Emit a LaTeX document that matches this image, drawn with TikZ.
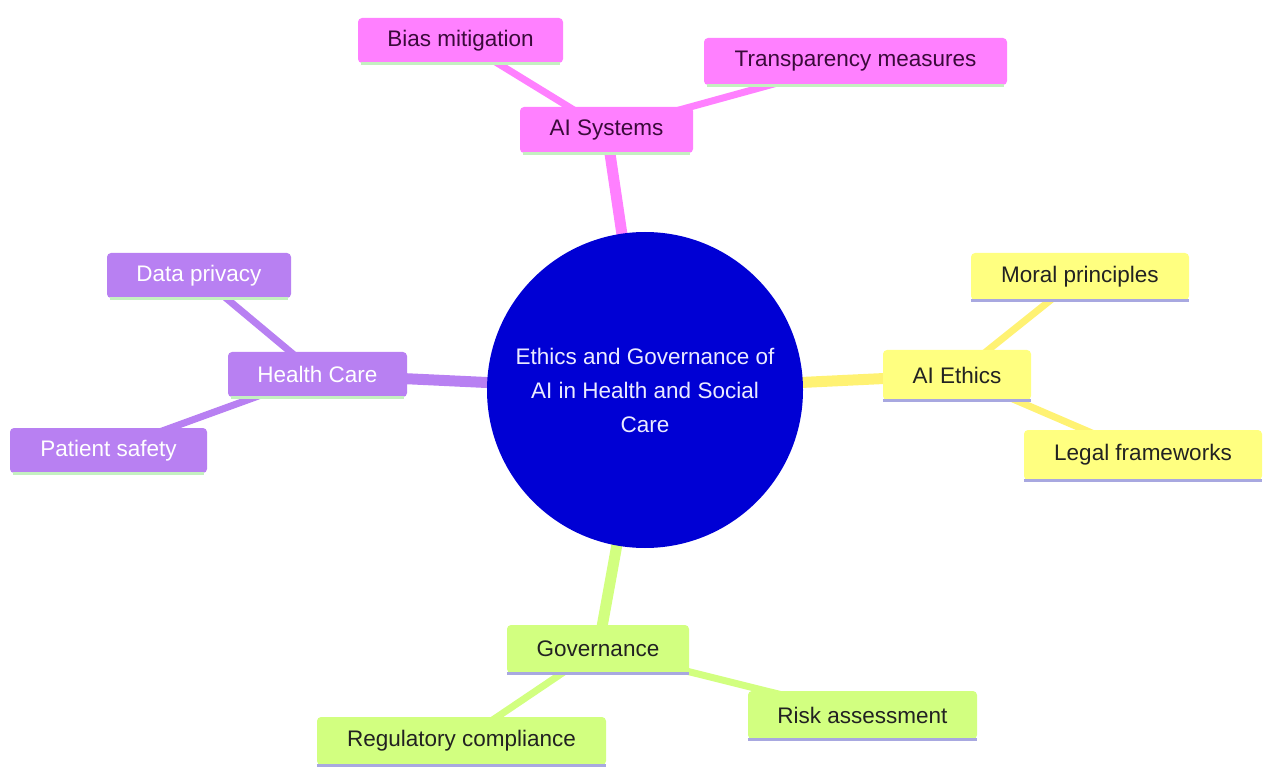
\documentclass[tikz,border=0pt]{standalone}
\usepackage{fontspec}
\setmainfont{Liberation Sans}
\pgfdeclarelayer{background}
\pgfsetlayers{background,main}
\definecolor{pinkc}{HTML}{FF80FF}
\definecolor{purplec}{HTML}{B880F2}
\definecolor{yellowc}{HTML}{FFFF80}
\definecolor{greenc}{HTML}{D2FF80}
\definecolor{rootc}{HTML}{0000D4}
\definecolor{lgreen}{HTML}{C4F0C0}
\definecolor{lavender}{HTML}{A8A8E0}
\definecolor{pinktext}{HTML}{3A0A3A}
\definecolor{darktext}{HTML}{222222}
\tikzset{
  box/.style={rectangle, rounded corners=4pt, inner sep=0pt, font=\fontsize{22.5}{26}\selectfont},
  pinkbox/.style={box, fill=pinkc, text=pinktext},
  purplebox/.style={box, fill=purplec, text=white},
  yellowbox/.style={box, fill=yellowc, text=darktext},
  greenbox/.style={box, fill=greenc, text=darktext},
  main edge/.style={line width=11pt},
  sub edge/.style={line width=7pt},
  underline/.style={line width=3pt},
}
\begin{document}
\begin{tikzpicture}[x=1pt,y=-1pt]
\useasboundingbox (0,0) rectangle (1264,767);
% root
\node[circle, fill=rootc, minimum size=316pt, inner sep=0pt, text=white!92!blue,
      align=center, font=\fontsize{22.5}{34}\selectfont] (root) at (645,390)
  {Ethics and Governance of\\AI in Health and Social\\Care};
% AI Systems branch
\node[pinkbox, minimum width=173pt, minimum height=46pt] (ais) at (606.5,130) {AI Systems};
\node[pinkbox, minimum width=205pt, minimum height=45pt] (bias) at (460.5,40.5) {Bias mitigation};
\node[pinkbox, minimum width=303pt, minimum height=47pt] (trans) at (855.5,61.5) {Transparency measures};
% Health Care branch
\node[purplebox, minimum width=179pt, minimum height=45pt] (hc) at (317.5,374.5) {Health Care};
\node[purplebox, minimum width=184pt, minimum height=45pt] (dp) at (199,275.5) {Data privacy};
\node[purplebox, minimum width=197pt, minimum height=45pt] (ps) at (108.5,450.5) {Patient safety};
% AI Ethics branch
\node[yellowbox, minimum width=148pt, minimum height=50pt] (aie) at (957,375) {AI Ethics};
\node[yellowbox, minimum width=218pt, minimum height=47pt] (moral) at (1080,276.5) {Moral principles};
\node[yellowbox, minimum width=238pt, minimum height=50pt] (legal) at (1143,455) {Legal frameworks};
% Governance branch
\node[greenbox, minimum width=182pt, minimum height=48pt] (gov) at (598,649) {Governance};
\node[greenbox, minimum width=229pt, minimum height=48pt] (risk) at (862.5,715) {Risk assessment};
\node[greenbox, minimum width=289pt, minimum height=48pt] (reg) at (461.5,741) {Regulatory compliance};
% underlines
\foreach \n in {ais,bias,trans,hc,dp,ps}
  \draw[underline, lgreen] ([xshift=3pt]\n.south west) -- ([xshift=-3pt]\n.south east);
\foreach \n in {aie,moral,legal,gov,risk,reg}
  \draw[underline, lavender] (\n.south west) -- (\n.south east);
% edges
\begin{pgfonlayer}{background}
\draw[main edge, pinkc] (root.center) -- (ais.center);
\draw[sub edge, pinkc] (ais.center) -- (bias.center);
\draw[sub edge, pinkc] (ais.center) -- (trans.center);
\draw[main edge, purplec] (root.center) -- (hc.center);
\draw[sub edge, purplec] (hc.center) -- (dp.center);
\draw[sub edge, purplec] (hc.center) -- (ps.center);
\draw[main edge, yellowc!90!orange] (root.center) -- (aie.center);
\draw[sub edge, yellowc!90!orange] (aie.center) -- (moral.center);
\draw[sub edge, yellowc!90!orange] (aie.center) -- (legal.center);
\draw[main edge, greenc] (root.center) -- (gov.center);
\draw[sub edge, greenc] (gov.center) -- (risk.center);
\draw[sub edge, greenc] (gov.center) -- (reg.center);
\end{pgfonlayer}
\end{tikzpicture}
\end{document}
